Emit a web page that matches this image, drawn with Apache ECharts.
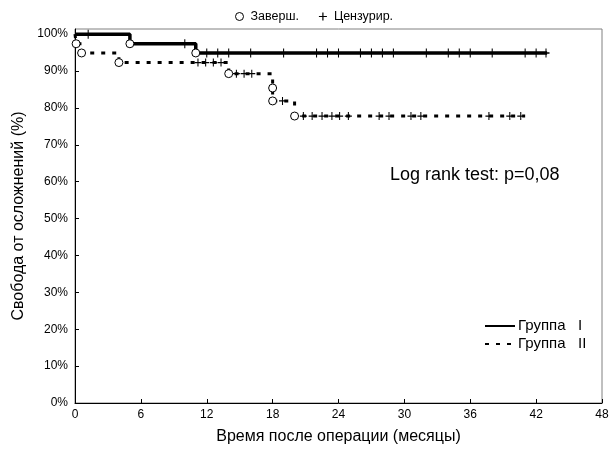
<!DOCTYPE html>
<html><head><meta charset="utf-8">
<script src="https://cdn.jsdelivr.net/npm/echarts@6/dist/echarts.min.js"></script>
<style>html,body{margin:0;padding:0;background:#fff}#c{width:616px;height:450px}</style>
</head><body><div id="c"></div>
<script>
// Group I survival step points [month, %]
const g1Time = [0, 5, 11, 43];
const g1Surv = [100, 97.4, 94.9, 94.9];
// Group I events (completed)
const g1EventTime = [5, 11];
const g1EventSurv = [97.4, 94.9];
// Group I censored
const g1CensTime = [1.2, 10, 12, 13, 14, 16, 19, 22, 23, 24, 26, 27, 28, 29, 32, 34, 35, 36, 38, 41, 42, 42.9];
const g1CensSurv = [100, 97.4, 94.9, 94.9, 94.9, 94.9, 94.9, 94.9, 94.9, 94.9, 94.9, 94.9, 94.9, 94.9, 94.9, 94.9, 94.9, 94.9, 94.9, 94.9, 94.9, 94.9];

// Group II
const g2Time = [0, 0.1, 0.6, 4, 14, 18, 18, 20, 41];
const g2Surv = [100, 97.4, 94.9, 92.3, 89.3, 85.4, 81.9, 77.8, 77.8];
const g2EventTime = [0.1, 0.6, 4, 14, 18, 18, 20];
const g2EventSurv = [97.4, 94.9, 92.3, 89.3, 85.4, 81.9, 77.8];
const g2CensTime = [11.2, 11.9, 12.6, 13.3, 14.7, 15.4, 16.1, 18.9, 20.8, 21.6, 22.5, 23.4, 24.1, 24.9, 27.7, 28.6, 30.6, 31.5, 37.7, 39.6, 40.6];
const g2CensSurv = [92.3, 92.3, 92.3, 92.3, 89.3, 89.3, 89.3, 81.9, 77.8, 77.8, 77.8, 77.8, 77.8, 77.8, 77.8, 77.8, 77.8, 77.8, 77.8, 77.8, 77.8];

const xTicks = [0, 6, 12, 18, 24, 30, 36, 42, 48];
const yTicks = [0, 10, 20, 30, 40, 50, 60, 70, 80, 90, 100];

const zip = (a, b) => a.map((v, i) => [v, b[i]]);
const FONT = '"Liberation Sans", Arial, sans-serif';
const plusPath = 'path://M3.4,0h1.2v3.4h3.4v1.2h-3.4v3.4h-1.2v-3.4h-3.4v-1.2h3.4z';
const circleStyle = {color: '#fff', borderColor: '#000', borderWidth: 1, opacity: 1};

const chart = echarts.init(document.getElementById('c'), null, {renderer: 'canvas'});
chart.setOption({
  animation: false,
  textStyle: {fontFamily: FONT, color: '#000'},
  grid: {left: 75, right: 14, top: 29, bottom: 47, show: true, borderColor: '#808080', borderWidth: 1},
  legend: [
    {
      data: [
        {name: 'Заверш.', icon: 'circle', itemStyle: {color: '#fff', borderColor: '#000', borderWidth: 1}},
        {name: 'Цензурир.', icon: plusPath, itemStyle: {color: '#000'}}
      ],
      top: 5, left: 230, itemGap: 20, itemWidth: 8, itemHeight: 8,
      textStyle: {fontFamily: FONT, fontSize: 12.5, color: '#000', padding: [0, 0, 0, 2]},
      selectedMode: false
    },
    {
      data: [
        {name: 'Группа   I', itemStyle: {opacity: 0}},
        {name: 'Группа   II', itemStyle: {opacity: 0}}
      ],
      orient: 'vertical', left: 479, top: 312, itemGap: 0, itemWidth: 30, itemHeight: 14,
      textStyle: {fontFamily: FONT, fontSize: 15, lineHeight: 18, color: '#000', padding: [0, 0, 0, -2]},
      selectedMode: false
    }
  ],
  xAxis: {
    type: 'value', min: 0, max: 48, interval: 6,
    name: 'Время после операции (месяцы)', nameLocation: 'middle', nameGap: 26,
    nameTextStyle: {fontFamily: FONT, fontSize: 16, color: '#000'},
    axisLine: {show: true, lineStyle: {color: '#000', width: 1}},
    axisTick: {show: true, inside: true, length: 4, lineStyle: {color: '#000'}},
    axisLabel: {fontFamily: FONT, fontSize: 12, color: '#000', margin: 6},
    splitLine: {show: false}
  },
  yAxis: {
    type: 'value', min: 0, max: 101.4, interval: 10,
    name: 'Свобода от осложнений (%)', nameLocation: 'middle', nameGap: 44,
    nameTextStyle: {fontFamily: FONT, fontSize: 16, color: '#000'},
    axisLine: {show: true, lineStyle: {color: '#000', width: 1}},
    axisTick: {show: true, inside: true, length: 4, lineStyle: {color: '#000'}},
    axisLabel: {fontFamily: FONT, fontSize: 12, color: '#000', margin: 7, showMaxLabel: false,
      formatter: v => (yTicks.indexOf(v) >= 0 ? v + '%' : '')},
    splitLine: {show: false}
  },
  series: [
    {
      name: 'Группа   I', type: 'line', step: 'end', data: zip(g1Time, g1Surv),
      showSymbol: false, symbol: 'none', color: '#000',
      lineStyle: {color: '#000', width: 3.5}, z: 3
    },
    {
      name: 'Группа   II', type: 'line', step: 'end', data: zip(g2Time, g2Surv),
      showSymbol: false, symbol: 'none', color: '#000',
      lineStyle: {color: '#000', width: 3, type: [4, 7]}, z: 3
    },
    {
      name: 'Цензурир.', type: 'scatter', data: zip(g1CensTime, g1CensSurv),
      symbol: plusPath, symbolSize: [7, 9], itemStyle: {color: '#000', opacity: 1}, z: 4
    },
    {
      name: 'Цензурир.', type: 'scatter', data: zip(g2CensTime, g2CensSurv),
      symbol: plusPath, symbolSize: [7, 8], itemStyle: {color: '#000', opacity: 1}, z: 4
    },
    {
      name: 'Заверш.', type: 'scatter', data: zip(g1EventTime, g1EventSurv),
      symbol: 'circle', symbolSize: 8, itemStyle: circleStyle, z: 5
    },
    {
      name: 'Заверш.', type: 'scatter', data: zip(g2EventTime, g2EventSurv),
      symbol: 'circle', symbolSize: 8, itemStyle: circleStyle, z: 5
    }
  ],
  graphic: [
    {type: 'text', left: 390, top: 166, style: {text: 'Log rank test: p=0,08', fontFamily: FONT, fontSize: 18, fill: '#000'}}
  ]
});
</script></body></html>
